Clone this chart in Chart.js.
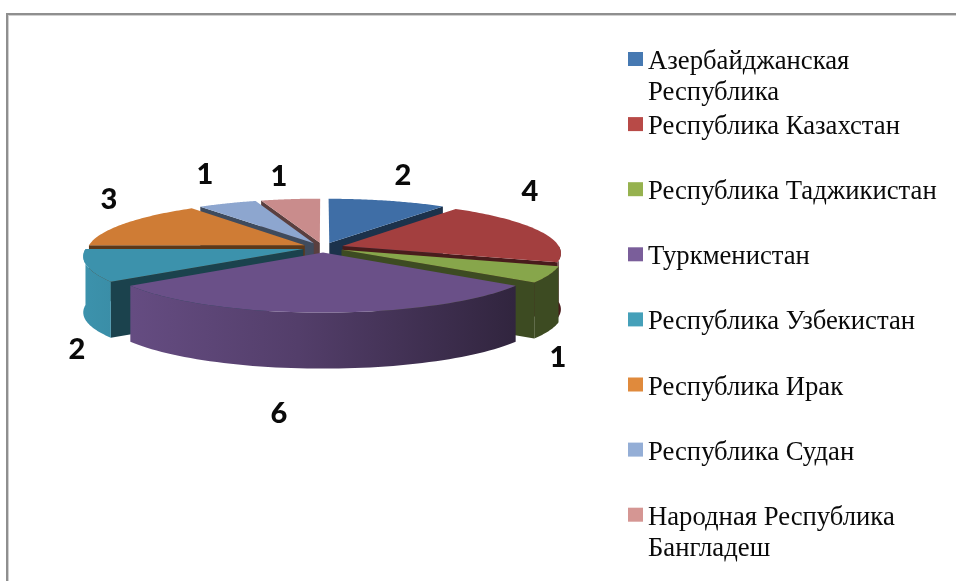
<!DOCTYPE html>
<html><head><meta charset="utf-8">
<script src="https://cdn.jsdelivr.net/npm/chart.js@4"></script>
<style>html,body{margin:0;padding:0;background:#fff}canvas{display:block}</style>
</head><body><canvas id="c" width="956" height="581"></canvas>
<script>
const categories = [
  ["Азербайджанская","Республика"],
  ["Республика Казахстан"],
  ["Республика Таджикистан"],
  ["Туркменистан"],
  ["Республика Узбекистан"],
  ["Республика Ирак"],
  ["Республика Судан"],
  ["Народная Республика","Бангладеш"]
];
const values = [2,4,1,6,2,3,1,1];
const topColors = ["#3f6ea6","#a33f3f","#87a64b","#6a5088","#3c92ac","#cf7c35","#8da6cf","#c98c8c"];
const legendColors = ["#4679b2","#b84a47","#96b24f","#7a5e9a","#45a0b9","#e08a3c","#94aed6","#d59693"];
const labelSpots = [[403,176],[530,192],[558,358],[279,414],[77,350],[109,200],[205,175],[279,177]];

const G = {cx:323, cy:247.5, R:217, Ry:51, persp:0.13, explode:0.095, depth:56};
function project(u,v){const s=1/(1-G.persp*v);return [G.cx+u*s*G.R, G.cy+v*s*G.Ry];}
function rgb(h){return [1,3,5].map(i=>parseInt(h.substr(i,2),16));}
function shade(h,f){const c=rgb(h).map(x=>Math.round(x*f));return `rgb(${c[0]},${c[1]},${c[2]})`;}

const pie3d = {
  id:'pie3d',
  beforeDraw(chart){
    const c=chart.ctx;c.save();c.fillStyle='#fff';c.fillRect(0,0,956,581);
    c.fillStyle='#8f8f8f';c.fillRect(6,13,950,2);c.fillRect(6,13,2,568);
    c.fillStyle='#d0d0d0';c.fillRect(8,15,948,1);c.fillRect(8,15,1,566);c.restore();
  },
  beforeDatasetDraw(){return false;},
  afterDatasetsDraw(chart){
    const c=chart.ctx, arcs=chart.getDatasetMeta(0).data;
    const items=arcs.map((a,i)=>{
      const t1=a.startAngle+Math.PI/2,t2=a.endAngle+Math.PI/2,m=(t1+t2)/2;
      return {i,t1,t2,m,ou:Math.sin(m)*G.explode,ov:-Math.cos(m)*G.explode};
    }).sort((a,b)=>(-Math.cos(a.m))-(-Math.cos(b.m)));
    const N=60;
    c.save();
    for(const s of items){
      const base=topColors[s.i];
      const P=(t,r)=>project(s.ou+Math.sin(t)*r,s.ov-Math.cos(t)*r);
      const apex=P(0,0);
      const wall=(t)=>{
        const e=P(t,1);
        c.beginPath();c.moveTo(apex[0],apex[1]);c.lineTo(e[0],e[1]);
        c.lineTo(e[0],e[1]+G.depth);c.lineTo(apex[0],apex[1]+G.depth);c.closePath();
        c.fillStyle=shade(base,0.45);c.fill();
      };
      if(Math.sin(s.t1)<0) wall(s.t1);
      if(Math.sin(s.t2)>0) wall(s.t2);
      const a=Math.max(s.t1,Math.PI/2),b=Math.min(s.t2,Math.PI*1.5);
      if(b>a){
        const g=c.createLinearGradient(84,0,560,0);
        g.addColorStop(0,shade(base,1.0));g.addColorStop(0.45,shade(base,0.78));g.addColorStop(0.92,shade(base,0.45));g.addColorStop(1,shade(base,0.45));
        c.beginPath();
        for(let k=0;k<=N;k++){const p=P(a+(b-a)*k/N,1);k?c.lineTo(p[0],p[1]):c.moveTo(p[0],p[1]);}
        for(let k=N;k>=0;k--){const p=P(a+(b-a)*k/N,1);c.lineTo(p[0],p[1]+G.depth);}
        c.closePath();c.fillStyle=g;c.fill();
      }
      c.beginPath();c.moveTo(apex[0],apex[1]);
      for(let k=0;k<=N;k++){const p=P(s.t1+(s.t2-s.t1)*k/N,1);c.lineTo(p[0],p[1]);}
      c.closePath();c.fillStyle=base;c.fill();
    }
    c.fillStyle='#0a0a0a';c.font='900 29px Lato';c.textAlign='center';c.textBaseline='middle';
    values.forEach((v,i)=>c.fillText(String(v),labelSpots[i][0],labelSpots[i][1]));
    c.textAlign='left';c.textBaseline='alphabetic';c.font='26.7px "Liberation Serif"';
    categories.forEach((lines,i)=>{
      const y=60+i*65.1;
      c.fillStyle=legendColors[i];c.fillRect(628,y-8,15,14);
      c.fillStyle='#0a0a0a';
      lines.forEach((t,j)=>c.fillText(t,648,y+9+j*31));
    });
    c.restore();
  }
};

new Chart(document.getElementById('c'),{
  type:'pie',
  data:{labels:categories.map(l=>l.join(' ')),datasets:[{data:values,backgroundColor:topColors}]},
  options:{responsive:false,animation:false,
    plugins:{legend:{display:false},tooltip:{enabled:false}}},
  plugins:[pie3d]
});
</script></body></html>
